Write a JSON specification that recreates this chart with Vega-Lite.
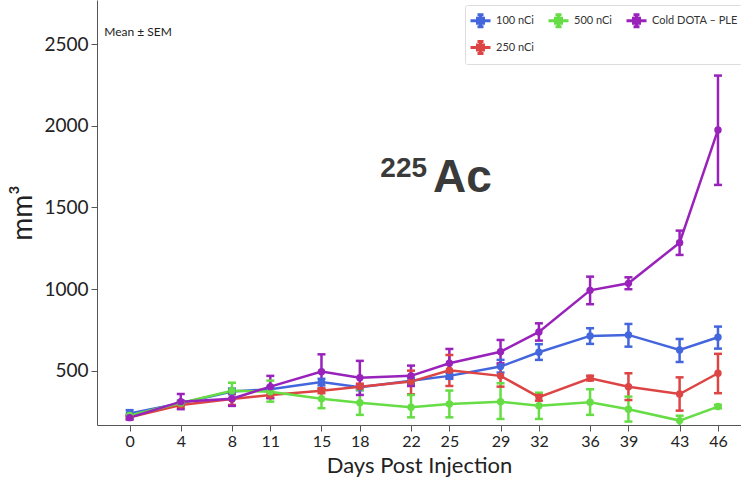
{
  "$schema": "https://vega.github.io/schema/vega-lite/v6.json",
  "width": 644,
  "height": 425,
  "autosize": {"type": "none"},
  "padding": {"left": 97, "top": 0, "right": 0, "bottom": 56},
  "config": {
    "view": {"stroke": null},
    "font": "Lato",
    "axis": {"domainColor": "#555", "tickColor": "#555", "labelColor": "#222", "titleColor": "#222", "titleFontWeight": "normal", "grid": false, "tickSize": 6}
  },
  "datasets": {
    "tumor": [
      {"group": "100 nCi", "day": 0, "mean": 238, "lo": 225, "hi": 258},
      {"group": "100 nCi", "day": 4, "mean": 300, "lo": 285, "hi": 315},
      {"group": "100 nCi", "day": 8, "mean": 372, "lo": 355, "hi": 390},
      {"group": "100 nCi", "day": 11, "mean": 386, "lo": 370, "hi": 402},
      {"group": "100 nCi", "day": 15, "mean": 430, "lo": 410, "hi": 450},
      {"group": "100 nCi", "day": 18, "mean": 398, "lo": 380, "hi": 415},
      {"group": "100 nCi", "day": 22, "mean": 438, "lo": 420, "hi": 455},
      {"group": "100 nCi", "day": 25, "mean": 468, "lo": 450, "hi": 487},
      {"group": "100 nCi", "day": 29, "mean": 525, "lo": 488, "hi": 566},
      {"group": "100 nCi", "day": 32, "mean": 613, "lo": 566, "hi": 662},
      {"group": "100 nCi", "day": 36, "mean": 713, "lo": 664, "hi": 760},
      {"group": "100 nCi", "day": 39, "mean": 719, "lo": 647, "hi": 786},
      {"group": "100 nCi", "day": 43, "mean": 627, "lo": 553, "hi": 694},
      {"group": "100 nCi", "day": 46, "mean": 705, "lo": 635, "hi": 770},
      {"group": "250 nCi", "day": 0, "mean": 215, "lo": 205, "hi": 225},
      {"group": "250 nCi", "day": 4, "mean": 290, "lo": 275, "hi": 305},
      {"group": "250 nCi", "day": 8, "mean": 326, "lo": 290, "hi": 360},
      {"group": "250 nCi", "day": 11, "mean": 351, "lo": 335, "hi": 367},
      {"group": "250 nCi", "day": 15, "mean": 377, "lo": 362, "hi": 392},
      {"group": "250 nCi", "day": 18, "mean": 402, "lo": 385, "hi": 420},
      {"group": "250 nCi", "day": 22, "mean": 433, "lo": 355, "hi": 500},
      {"group": "250 nCi", "day": 25, "mean": 502, "lo": 406, "hi": 596},
      {"group": "250 nCi", "day": 29, "mean": 468, "lo": 402, "hi": 535},
      {"group": "250 nCi", "day": 32, "mean": 338, "lo": 316, "hi": 357},
      {"group": "250 nCi", "day": 36, "mean": 453, "lo": 440, "hi": 469},
      {"group": "250 nCi", "day": 39, "mean": 402, "lo": 320, "hi": 484},
      {"group": "250 nCi", "day": 43, "mean": 357, "lo": 255, "hi": 459},
      {"group": "250 nCi", "day": 46, "mean": 484, "lo": 362, "hi": 603},
      {"group": "500 nCi", "day": 0, "mean": 225, "lo": 212, "hi": 240},
      {"group": "500 nCi", "day": 4, "mean": 302, "lo": 288, "hi": 316},
      {"group": "500 nCi", "day": 8, "mean": 377, "lo": 326, "hi": 426},
      {"group": "500 nCi", "day": 11, "mean": 371, "lo": 310, "hi": 439},
      {"group": "500 nCi", "day": 15, "mean": 328, "lo": 270, "hi": 382},
      {"group": "500 nCi", "day": 18, "mean": 304, "lo": 229, "hi": 382},
      {"group": "500 nCi", "day": 22, "mean": 276, "lo": 214, "hi": 351},
      {"group": "500 nCi", "day": 25, "mean": 296, "lo": 214, "hi": 378},
      {"group": "500 nCi", "day": 29, "mean": 310, "lo": 204, "hi": 423},
      {"group": "500 nCi", "day": 32, "mean": 285, "lo": 204, "hi": 365},
      {"group": "500 nCi", "day": 36, "mean": 306, "lo": 229, "hi": 386},
      {"group": "500 nCi", "day": 39, "mean": 264, "lo": 188, "hi": 341},
      {"group": "500 nCi", "day": 43, "mean": 194, "lo": 150, "hi": 224},
      {"group": "500 nCi", "day": 46, "mean": 280, "lo": 270, "hi": 290},
      {"group": "Cold DOTA – PLE", "day": 0, "mean": 212, "lo": 200, "hi": 225},
      {"group": "Cold DOTA – PLE", "day": 4, "mean": 310, "lo": 264, "hi": 357},
      {"group": "Cold DOTA – PLE", "day": 8, "mean": 328, "lo": 284, "hi": 370},
      {"group": "Cold DOTA – PLE", "day": 11, "mean": 402, "lo": 331, "hi": 468},
      {"group": "Cold DOTA – PLE", "day": 15, "mean": 494, "lo": 386, "hi": 600},
      {"group": "Cold DOTA – PLE", "day": 18, "mean": 457, "lo": 351, "hi": 560},
      {"group": "Cold DOTA – PLE", "day": 22, "mean": 468, "lo": 406, "hi": 531},
      {"group": "Cold DOTA – PLE", "day": 25, "mean": 545, "lo": 460, "hi": 633},
      {"group": "Cold DOTA – PLE", "day": 29, "mean": 616, "lo": 545, "hi": 688},
      {"group": "Cold DOTA – PLE", "day": 32, "mean": 737, "lo": 684, "hi": 790},
      {"group": "Cold DOTA – PLE", "day": 36, "mean": 992, "lo": 907, "hi": 1076},
      {"group": "Cold DOTA – PLE", "day": 39, "mean": 1035, "lo": 999, "hi": 1072},
      {"group": "Cold DOTA – PLE", "day": 43, "mean": 1284, "lo": 1209, "hi": 1358},
      {"group": "Cold DOTA – PLE", "day": 46, "mean": 1975, "lo": 1638, "hi": 2308}
    ],
    "notes": [
      {"key": "sem", "label": "Mean ± SEM", "x": -1.98, "y": 2575},
      {"key": "iso", "label": "225", "x": 19.6, "y": 1687},
      {"key": "el", "label": "Ac", "x": 23.72, "y": 1595}
    ]
  },
  "data": {"name": "tumor"},
  "encoding": {
    "x": {
      "field": "day", "type": "quantitative",
      "scale": {"domain": [-2.55, 47.8], "nice": false, "zero": false},
      "axis": {"values": [0, 4, 8, 11, 15, 18, 22, 25, 29, 32, 36, 39, 43, 46], "title": "Days Post Injection", "labelFontSize": 16, "titleFontSize": 22, "labelPadding": 2, "titlePadding": 6}
    },
    "color": {
      "field": "group", "type": "nominal",
      "scale": {"domain": ["100 nCi", "Cold DOTA – PLE", "500 nCi", "250 nCi"], "range": ["#4466dd", "#9922bb", "#66dd44", "#dd4444"]},
      "legend": {
        "orient": "none", "legendX": 368, "legendY": 5, "columns": 3, "title": null,
        "symbolType": "M-1,0H1M0,-0.6V0.6M-0.3,-0.6H0.3M-0.3,0.6H0.3M-0.3,-0.25H0.3V0.25H-0.3Z",
        "symbolSize": 400, "symbolStrokeWidth": 3, "labelFontSize": 11, "labelColor": "#333",
        "strokeColor": "#ddd", "padding": 4, "columnPadding": 8, "rowPadding": 2, "cornerRadius": 2
      }
    }
  },
  "layer": [
    {
      "mark": {"type": "rule", "strokeWidth": 2.5, "clip": true},
      "encoding": {
        "y": {"field": "lo", "type": "quantitative", "scale": {"domain": [167, 2771], "nice": false, "zero": false},
          "axis": {"values": [500, 1000, 1500, 2000, 2500], "format": "d", "title": "mm³", "labelFontSize": 19, "titleFontSize": 28, "titlePadding": 6, "labelPadding": 3}},
        "y2": {"field": "hi"}
      }
    },
    {
      "mark": {"type": "point", "shape": "stroke", "size": 64, "strokeWidth": 2.5, "filled": false, "opacity": 1, "clip": true},
      "encoding": {"y": {"field": "lo", "type": "quantitative"}}
    },
    {
      "mark": {"type": "point", "shape": "stroke", "size": 64, "strokeWidth": 2.5, "filled": false, "opacity": 1, "clip": true},
      "encoding": {"y": {"field": "hi", "type": "quantitative"}}
    },
    {
      "mark": {"type": "line", "strokeWidth": 2.5},
      "encoding": {"y": {"field": "mean", "type": "quantitative"}}
    },
    {
      "mark": {"type": "point", "filled": true, "size": 55, "opacity": 1},
      "encoding": {"y": {"field": "mean", "type": "quantitative"}}
    },
    {
      "data": {"name": "notes"},
      "transform": [{"filter": "datum.key == 'sem'"}],
      "mark": {"type": "text", "align": "left", "baseline": "middle", "fontSize": 12, "color": "#222"},
      "encoding": {"x": {"field": "x", "type": "quantitative"}, "y": {"field": "y", "type": "quantitative"}, "text": {"field": "label"}, "color": {"value": "#222"}}
    },
    {
      "data": {"name": "notes"},
      "transform": [{"filter": "datum.key == 'iso'"}],
      "mark": {"type": "text", "align": "left", "baseline": "alphabetic", "fontSize": 28, "font": "Liberation Sans", "fontWeight": "bold"},
      "encoding": {"x": {"field": "x", "type": "quantitative"}, "y": {"field": "y", "type": "quantitative"}, "text": {"field": "label"}, "color": {"value": "#3a3a3a"}}
    },
    {
      "data": {"name": "notes"},
      "transform": [{"filter": "datum.key == 'el'"}],
      "mark": {"type": "text", "align": "left", "baseline": "alphabetic", "fontSize": 46, "font": "Liberation Sans", "fontWeight": "bold"},
      "encoding": {"x": {"field": "x", "type": "quantitative"}, "y": {"field": "y", "type": "quantitative"}, "text": {"field": "label"}, "color": {"value": "#3a3a3a"}}
    }
  ]
}
